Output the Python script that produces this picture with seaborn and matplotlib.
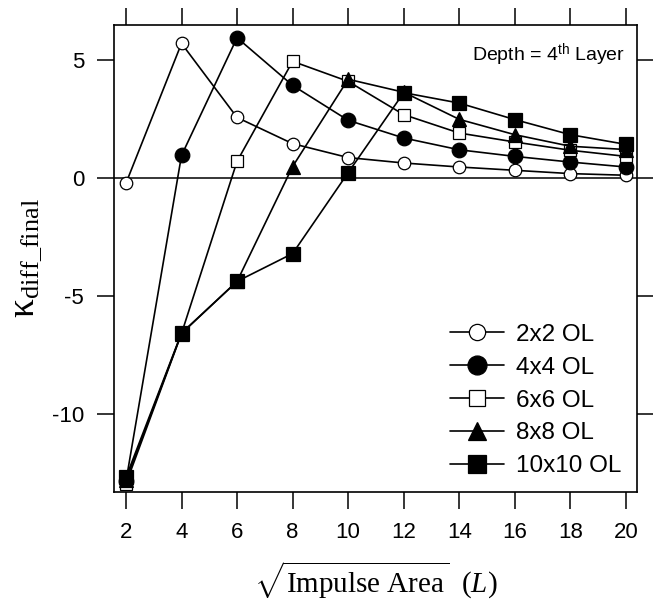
import numpy as np
import pandas as pd
import matplotlib
matplotlib.use("Agg")
import matplotlib.pyplot as plt
import seaborn as sns

# -----------------------------
# Data
# -----------------------------
impulse_L = [2, 4, 6, 8, 10, 12, 14, 16, 18, 20]

ol_2x2 = [-0.21, 5.72, 2.58, 1.47, 0.88, 0.65, 0.48, 0.34, 0.20, 0.13]
ol_4x4 = [-12.85, 0.97, 5.96, 3.94, 2.46, 1.71, 1.21, 0.93, 0.69, 0.48]
ol_6x6 = [-12.95, -6.58, 0.72, 4.96, 4.11, 2.70, 1.92, 1.54, 1.19, 0.93]
ol_8x8 = [-12.80, -6.58, -4.37, 0.50, 4.20, 3.65, 2.50, 1.85, 1.36, 1.22]
ol_10x10 = [-12.68, -6.56, -4.37, -3.19, 0.24, 3.63, 3.19, 2.49, 1.85, 1.44]

series_names = ["2x2 OL", "4x4 OL", "6x6 OL", "8x8 OL", "10x10 OL"]
series_values = [ol_2x2, ol_4x4, ol_6x6, ol_8x8, ol_10x10]

df = pd.DataFrame({
    "L": impulse_L * len(series_names),
    "kappa": np.concatenate(series_values),
    "series": np.repeat(series_names, len(impulse_L)),
})

# marker style per series
styles = {
    "2x2 OL": dict(marker="o", mfc="white", ms=9),
    "4x4 OL": dict(marker="o", mfc="black", ms=10.5),
    "6x6 OL": dict(marker="s", mfc="white", ms=9),
    "8x8 OL": dict(marker="^", mfc="black", ms=10),
    "10x10 OL": dict(marker="s", mfc="black", ms=10),
}

# -----------------------------
# Style
# -----------------------------
sns.set_theme(style="ticks")
plt.rcParams["font.family"] = ["Liberation Sans", "DejaVu Sans"]
plt.rcParams["mathtext.fontset"] = "custom"
plt.rcParams["mathtext.rm"] = "Liberation Serif"
plt.rcParams["mathtext.it"] = "Liberation Serif:italic"
plt.rcParams["mathtext.sf"] = "Liberation Sans"
plt.rcParams["axes.unicode_minus"] = False
plt.rcParams["text.color"] = "black"
plt.rcParams["axes.labelcolor"] = "black"
plt.rcParams["xtick.color"] = "black"
plt.rcParams["ytick.color"] = "black"

fig = plt.figure(figsize=(6.53, 6.10), dpi=100)
ax = fig.add_axes([0.1746, 0.1934, 0.8009, 0.7656])

ax.axhline(0, color="black", lw=1.1, zorder=1)

for name in series_names:
    sub = df[df["series"] == name]
    st = styles[name]
    sns.lineplot(
        data=sub, x="L", y="kappa", ax=ax,
        color="black", lw=1.2, marker=st["marker"], markersize=st["ms"],
        markerfacecolor=st["mfc"], markeredgecolor="black",
        markeredgewidth=0.9, label=name, zorder=3,
    )

ax.set_xlim(1.57, 20.4)
ax.set_ylim(-13.3, 6.5)
ax.set_xticks(impulse_L)
ax.set_yticks([5, 0, -5, -10])

for side in ["left", "right", "top", "bottom"]:
    ax.spines[side].set_visible(True)
    ax.spines[side].set_color("black")
    ax.spines[side].set_linewidth(1.2)

ax.tick_params(direction="out", length=12.5, width=1.1, color="black",
               labelcolor="black", labelsize=16, top=True, right=True, pad=9)

ax.set_xlabel(r"$\sqrt{\mathrm{Impulse\ Area}}\ \ (\mathit{L})$",
              fontsize=21, labelpad=12)
ax.set_ylabel(r"$\mathrm{κ}_{\mathrm{diff\_final}}$", fontsize=27,
              labelpad=6)

ax.text(0.977, 0.965, r"Depth = 4$^{\mathsf{th}}$ Layer",
        transform=ax.transAxes, ha="right", va="top", fontsize=14)

ax.legend(loc="lower right", bbox_to_anchor=(0.998, 0.0), frameon=False,
          fontsize=17.5, handlelength=2.2, handletextpad=0.5,
          labelspacing=0.45, borderaxespad=0.2, markerscale=1.3)

fig.savefig("out.png", dpi=100)
plt.close(fig)
